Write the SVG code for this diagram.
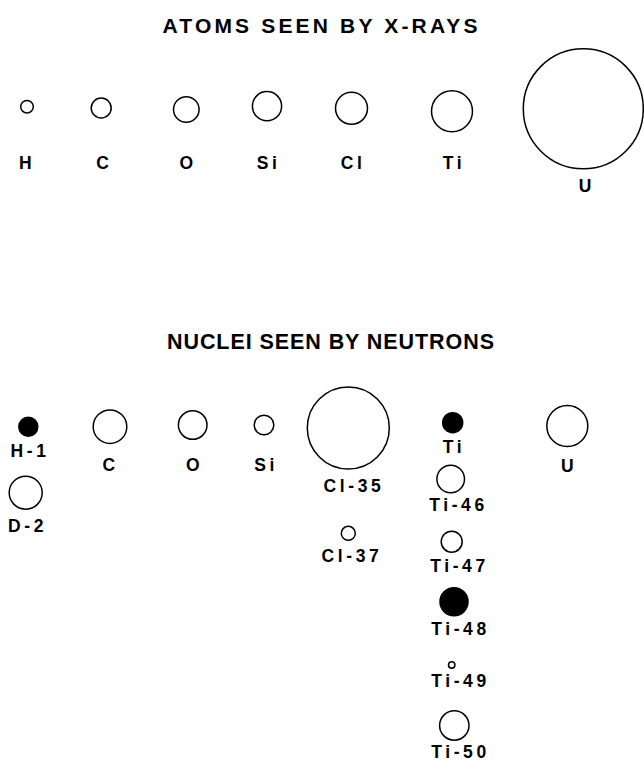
<svg xmlns="http://www.w3.org/2000/svg" width="644" height="762" viewBox="0 0 644 762">
<style>
.bg{fill:#ffffff}
.ring{fill:#ffffff;stroke:#000000;stroke-width:1.5}
.dot{fill:#000000;stroke:#000000;stroke-width:1.5}
.title{font-family:"Liberation Sans",Arial,sans-serif;font-weight:bold;font-size:21px;fill:#000000;text-anchor:middle}
.lbl{font-family:"Liberation Sans",Arial,sans-serif;font-weight:bold;font-size:17.5px;fill:#000000;text-anchor:middle;letter-spacing:3.6px}
</style>
<rect class="bg" x="0" y="0" width="644" height="762"/>
<g id="connectors"/>
<g id="title-xrays"><text class="title" x="320" y="32.7" textLength="315" lengthAdjust="spacing">ATOMS SEEN BY X-RAYS</text></g>
<g id="x-H"><circle class="ring" cx="27" cy="106.7" r="6.3"/><text class="lbl" x="27" y="169.3">H</text></g>
<g id="x-C"><circle class="ring" cx="101.2" cy="108" r="10"/><text class="lbl" x="104.3" y="169.3">C</text></g>
<g id="x-O"><circle class="ring" cx="186.3" cy="109.5" r="12.8"/><text class="lbl" x="188.2" y="169.3">O</text></g>
<g id="x-Si"><circle class="ring" cx="267" cy="106.2" r="14.6"/><text class="lbl" x="268.5" y="169.3">Si</text></g>
<g id="x-Cl"><circle class="ring" cx="351.5" cy="108.3" r="16"/><text class="lbl" x="353" y="169.3">Cl</text></g>
<g id="x-Ti"><circle class="ring" cx="452" cy="111.2" r="20.5"/><text class="lbl" x="454" y="169.3">Ti</text></g>
<g id="x-U"><circle class="ring" cx="583.3" cy="108.8" r="60"/><text class="lbl" x="586.8" y="191.7">U</text></g>
<g id="title-neutrons"><text class="title" x="330.5" y="348.5" textLength="327" lengthAdjust="spacing" style="font-size:21.5px">NUCLEI SEEN BY NEUTRONS</text></g>
<g id="n-H1"><circle class="dot" cx="28.3" cy="426.7" r="9.5"/><text class="lbl" x="30" y="456.5">H-1</text></g>
<g id="n-D2"><circle class="ring" cx="25.7" cy="492.7" r="16.5"/><text class="lbl" x="27.5" y="531.5">D-2</text></g>
<g id="n-C"><circle class="ring" cx="110" cy="426.7" r="16.8"/><text class="lbl" x="110.5" y="470.5">C</text></g>
<g id="n-O"><circle class="ring" cx="192.7" cy="425" r="14.3"/><text class="lbl" x="194.5" y="470.5">O</text></g>
<g id="n-Si"><circle class="ring" cx="264" cy="425" r="9.8"/><text class="lbl" x="266" y="470.5">Si</text></g>
<g id="n-Cl35"><circle class="ring" cx="348.3" cy="428" r="41"/><text class="lbl" x="354" y="491.7">Cl-35</text></g>
<g id="n-Cl37"><circle class="ring" cx="348.3" cy="533.3" r="7"/><text class="lbl" x="352" y="561.7">Cl-37</text></g>
<g id="n-Ti"><circle class="dot" cx="452.7" cy="422.7" r="10"/><text class="lbl" x="454" y="453">Ti</text></g>
<g id="n-Ti46"><circle class="ring" cx="450.7" cy="479" r="13.8"/><text class="lbl" x="458.5" y="510.5">Ti-46</text></g>
<g id="n-Ti47"><circle class="ring" cx="451.7" cy="541.7" r="10.5"/><text class="lbl" x="459.5" y="572.2">Ti-47</text></g>
<g id="n-Ti48"><circle class="dot" cx="454" cy="601.7" r="14"/><text class="lbl" x="460.5" y="635">Ti-48</text></g>
<g id="n-Ti49"><circle class="ring" cx="451.7" cy="665" r="3.2"/><text class="lbl" x="460.5" y="686.7">Ti-49</text></g>
<g id="n-Ti50"><circle class="ring" cx="454.3" cy="725.5" r="14.7"/><text class="lbl" x="460.5" y="757.5">Ti-50</text></g>
<g id="n-U"><circle class="ring" cx="567.3" cy="426" r="20.5"/><text class="lbl" x="569" y="471.7">U</text></g>
</svg>
